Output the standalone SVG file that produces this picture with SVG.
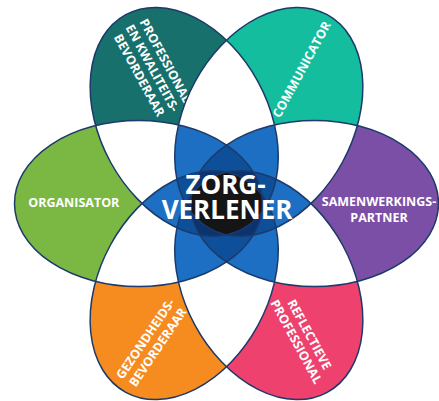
<svg xmlns="http://www.w3.org/2000/svg" width="439" height="401" viewBox="0 0 439 401">
<style>
.lbl{font-family:"Open Sans","Liberation Sans",Arial,sans-serif;font-weight:700;font-size:12.5px;fill:#ffffff;text-anchor:middle}
.ctr{font-family:"Open Sans","Liberation Sans",Arial,sans-serif;font-weight:700;font-size:26px;fill:#ffffff;text-anchor:middle}
.outline{fill:none;stroke:#1c3a6a;stroke-width:1.5}
.n2{fill:#ffffff}
.n3{fill:#1c6fc2}
.n4{fill:#0e4f9a}
.n5{fill:#0a3370}
.n6{fill:#151515}
</style>
<defs>
<ellipse id="e0" cx="138.5" cy="203.5" rx="124" ry="83"/>
<ellipse id="e1" rx="122" ry="84" transform="translate(184.2 121.8) rotate(61.4)"/>
<ellipse id="e2" rx="122" ry="84" transform="translate(268.8 121.8) rotate(-61.4)"/>
<ellipse id="e3" cx="314.5" cy="203.5" rx="124" ry="83"/>
<ellipse id="e4" rx="122" ry="84" transform="translate(268.8 285.2) rotate(61.4)"/>
<ellipse id="e5" rx="122" ry="84" transform="translate(184.2 285.2) rotate(-61.4)"/>
<clipPath id="c0"><use href="#e0"/></clipPath>
<clipPath id="c1"><use href="#e1"/></clipPath>
<clipPath id="c2"><use href="#e2"/></clipPath>
<clipPath id="c3"><use href="#e3"/></clipPath>
<clipPath id="c4"><use href="#e4"/></clipPath>
<clipPath id="c5"><use href="#e5"/></clipPath>
</defs>
<rect width="439" height="401" fill="#ffffff"/>
<g id="organisator">
<use href="#e0" fill="#7ab843"/>
<text class="lbl" x="73.8" y="207">ORGANISATOR</text>
</g>
<g id="professional-kwaliteitsbevorderaar">
<use href="#e1" fill="#17706c"/>
<text class="lbl" transform="translate(152.5 68) rotate(61.4)"><tspan x="0" y="-10.5">PROFESSIONAL</tspan><tspan x="0" y="4.5">EN KWALITEITS-</tspan><tspan x="0" y="19.5">BEVORDERAAR</tspan></text>
</g>
<g id="communicator">
<use href="#e2" fill="#14bd9d"/>
<text class="lbl" transform="translate(301.5 69.5) rotate(-61.4)" x="0" y="4.5">COMMUNICATOR</text>
</g>
<g id="samenwerkingspartner">
<use href="#e3" fill="#7b4fa6"/>
<text class="lbl" x="379" y="205.5">SAMENWERKINGS-</text>
<text class="lbl" x="379" y="222">PARTNER</text>
</g>
<g id="reflectieve-professional">
<use href="#e4" fill="#ee416e"/>
<text class="lbl" transform="translate(303 338) rotate(61.4)"><tspan x="0" y="-3">REFLECTIEVE</tspan><tspan x="0" y="12">PROFESSIONAL</tspan></text>
</g>
<g id="gezondheidsbevorderaar">
<use href="#e5" fill="#f68b1f"/>
<text class="lbl" transform="translate(151.5 343) rotate(-56)"><tspan x="0" y="-3">GEZONDHEIDS-</tspan><tspan x="0" y="12">BEVORDERAAR</tspan></text>
</g>
<g id="overlaps">
<g class="n2">
<use href="#e1" clip-path="url(#c0)"/>
<use href="#e2" clip-path="url(#c0)"/>
<use href="#e3" clip-path="url(#c0)"/>
<use href="#e4" clip-path="url(#c0)"/>
<use href="#e5" clip-path="url(#c0)"/>
<use href="#e2" clip-path="url(#c1)"/>
<use href="#e3" clip-path="url(#c1)"/>
<use href="#e4" clip-path="url(#c1)"/>
<use href="#e5" clip-path="url(#c1)"/>
<use href="#e3" clip-path="url(#c2)"/>
<use href="#e4" clip-path="url(#c2)"/>
<use href="#e5" clip-path="url(#c2)"/>
<use href="#e4" clip-path="url(#c3)"/>
<use href="#e5" clip-path="url(#c3)"/>
<use href="#e5" clip-path="url(#c4)"/>
</g>
<g class="n3">
<g clip-path="url(#c0)"><use href="#e2" clip-path="url(#c1)"/></g>
<g clip-path="url(#c0)"><use href="#e3" clip-path="url(#c1)"/></g>
<g clip-path="url(#c0)"><use href="#e4" clip-path="url(#c1)"/></g>
<g clip-path="url(#c0)"><use href="#e5" clip-path="url(#c1)"/></g>
<g clip-path="url(#c0)"><use href="#e3" clip-path="url(#c2)"/></g>
<g clip-path="url(#c0)"><use href="#e4" clip-path="url(#c2)"/></g>
<g clip-path="url(#c0)"><use href="#e5" clip-path="url(#c2)"/></g>
<g clip-path="url(#c0)"><use href="#e4" clip-path="url(#c3)"/></g>
<g clip-path="url(#c0)"><use href="#e5" clip-path="url(#c3)"/></g>
<g clip-path="url(#c0)"><use href="#e5" clip-path="url(#c4)"/></g>
<g clip-path="url(#c1)"><use href="#e3" clip-path="url(#c2)"/></g>
<g clip-path="url(#c1)"><use href="#e4" clip-path="url(#c2)"/></g>
<g clip-path="url(#c1)"><use href="#e5" clip-path="url(#c2)"/></g>
<g clip-path="url(#c1)"><use href="#e4" clip-path="url(#c3)"/></g>
<g clip-path="url(#c1)"><use href="#e5" clip-path="url(#c3)"/></g>
<g clip-path="url(#c1)"><use href="#e5" clip-path="url(#c4)"/></g>
<g clip-path="url(#c2)"><use href="#e4" clip-path="url(#c3)"/></g>
<g clip-path="url(#c2)"><use href="#e5" clip-path="url(#c3)"/></g>
<g clip-path="url(#c2)"><use href="#e5" clip-path="url(#c4)"/></g>
<g clip-path="url(#c3)"><use href="#e5" clip-path="url(#c4)"/></g>
</g>
<g class="n4">
<g clip-path="url(#c0)"><g clip-path="url(#c1)"><use href="#e3" clip-path="url(#c2)"/></g></g>
<g clip-path="url(#c0)"><g clip-path="url(#c1)"><use href="#e4" clip-path="url(#c2)"/></g></g>
<g clip-path="url(#c0)"><g clip-path="url(#c1)"><use href="#e5" clip-path="url(#c2)"/></g></g>
<g clip-path="url(#c0)"><g clip-path="url(#c1)"><use href="#e4" clip-path="url(#c3)"/></g></g>
<g clip-path="url(#c0)"><g clip-path="url(#c1)"><use href="#e5" clip-path="url(#c3)"/></g></g>
<g clip-path="url(#c0)"><g clip-path="url(#c1)"><use href="#e5" clip-path="url(#c4)"/></g></g>
<g clip-path="url(#c0)"><g clip-path="url(#c2)"><use href="#e4" clip-path="url(#c3)"/></g></g>
<g clip-path="url(#c0)"><g clip-path="url(#c2)"><use href="#e5" clip-path="url(#c3)"/></g></g>
<g clip-path="url(#c0)"><g clip-path="url(#c2)"><use href="#e5" clip-path="url(#c4)"/></g></g>
<g clip-path="url(#c0)"><g clip-path="url(#c3)"><use href="#e5" clip-path="url(#c4)"/></g></g>
<g clip-path="url(#c1)"><g clip-path="url(#c2)"><use href="#e4" clip-path="url(#c3)"/></g></g>
<g clip-path="url(#c1)"><g clip-path="url(#c2)"><use href="#e5" clip-path="url(#c3)"/></g></g>
<g clip-path="url(#c1)"><g clip-path="url(#c2)"><use href="#e5" clip-path="url(#c4)"/></g></g>
<g clip-path="url(#c1)"><g clip-path="url(#c3)"><use href="#e5" clip-path="url(#c4)"/></g></g>
<g clip-path="url(#c2)"><g clip-path="url(#c3)"><use href="#e5" clip-path="url(#c4)"/></g></g>
</g>
<g class="n5">
<g clip-path="url(#c0)"><g clip-path="url(#c1)"><g clip-path="url(#c2)"><use href="#e4" clip-path="url(#c3)"/></g></g></g>
<g clip-path="url(#c0)"><g clip-path="url(#c1)"><g clip-path="url(#c2)"><use href="#e5" clip-path="url(#c3)"/></g></g></g>
<g clip-path="url(#c0)"><g clip-path="url(#c1)"><g clip-path="url(#c2)"><use href="#e5" clip-path="url(#c4)"/></g></g></g>
<g clip-path="url(#c0)"><g clip-path="url(#c1)"><g clip-path="url(#c3)"><use href="#e5" clip-path="url(#c4)"/></g></g></g>
<g clip-path="url(#c0)"><g clip-path="url(#c2)"><g clip-path="url(#c3)"><use href="#e5" clip-path="url(#c4)"/></g></g></g>
<g clip-path="url(#c1)"><g clip-path="url(#c2)"><g clip-path="url(#c3)"><use href="#e5" clip-path="url(#c4)"/></g></g></g>
</g>
<g class="n6">
<g clip-path="url(#c0)"><g clip-path="url(#c1)"><g clip-path="url(#c2)"><g clip-path="url(#c3)"><use href="#e5" clip-path="url(#c4)"/></g></g></g></g>
</g>
</g>
<g id="outlines" class="outline">
<use href="#e0"/>
<use href="#e1"/>
<use href="#e2"/>
<use href="#e3"/>
<use href="#e4"/>
<use href="#e5"/>
</g>
<g id="zorgverlener">
<text class="ctr" x="225.5" y="193.5">ZORG-</text>
<text class="ctr" x="227" y="219">VERLENER</text>
</g>
</svg>
